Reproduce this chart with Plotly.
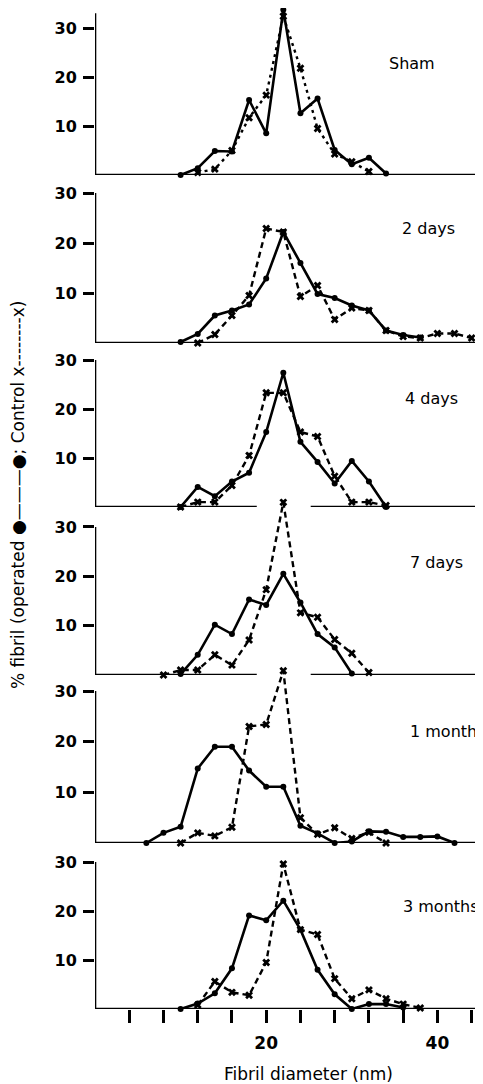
import plotly.graph_objects as go

# ---------------- data (fibril diameter in nm, % fibril) ----------------
panel_labels = ["Sham", "2 days", "4 days", "7 days", "1 month", "3 months"]

sham_op_x = [10, 12, 14, 16, 18, 20, 22, 24, 26, 28, 30, 32, 34]
sham_op_y = [0, 1.4, 4.9, 4.8, 15.3, 8.5, 33.7, 12.6, 15.6, 5.1, 2.2, 3.5, 0.3]
sham_ct_x = [12, 14, 16, 18, 20, 22, 24, 26, 28, 30, 32]
sham_ct_y = [0.5, 1.2, 5.0, 11.7, 16.3, 32.4, 21.8, 9.5, 4.3, 2.7, 0.7]

d2_op_x = [10, 12, 14, 16, 18, 20, 22, 24, 26, 28, 30, 32, 34, 36, 38]
d2_op_y = [0.2, 1.8, 5.5, 6.5, 7.7, 12.9, 22.2, 16.0, 9.8, 9.0, 7.5, 6.5, 2.5, 1.6, 1.1]
d2_ct_x = [12, 14, 16, 18, 20, 22, 24, 26, 28, 30, 32, 34, 36, 38, 40, 42, 44]
d2_ct_y = [0, 1.7, 5.5, 9.5, 22.9, 22.2, 9.3, 11.5, 4.7, 7.0, 6.5, 2.5, 1.3, 1.0, 1.9, 1.9, 1.0]

d4_op_x = [10, 12, 14, 16, 18, 20, 22, 24, 26, 28, 30, 32, 34]
d4_op_y = [0, 4.1, 2.2, 5.2, 7.0, 15.3, 27.4, 13.3, 9.2, 4.8, 9.4, 5.2, 0]
d4_ct_x = [10, 12, 14, 16, 18, 20, 22, 24, 26, 28, 30, 32, 34]
d4_ct_y = [0, 1.0, 1.0, 4.4, 10.5, 23.3, 23.3, 15.3, 14.4, 6.3, 1.0, 1.0, 0.3]

d7_op_x = [10, 12, 14, 16, 18, 20, 22, 24, 26, 28, 30]
d7_op_y = [0.2, 4.1, 10.2, 8.3, 15.3, 14.2, 20.5, 14.7, 8.3, 5.6, 0.3]
d7_ct_x = [8, 10, 12, 14, 16, 18, 20, 22, 24, 26, 28, 30, 32]
d7_ct_y = [0, 1.0, 1.0, 4.1, 2.0, 7.1, 17.3, 35.0, 12.6, 11.7, 7.2, 4.4, 0.5]

m1_op_x = [6, 8, 10, 12, 14, 16, 18, 20, 22, 24, 26, 28, 30, 32, 34, 36, 38, 40, 42]
m1_op_y = [0, 2.0, 3.2, 14.7, 19.0, 19.0, 14.3, 11.1, 11.1, 3.4, 1.9, 0, 0.3, 2.3, 2.2, 1.2, 1.2, 1.3, 0]
m1_ct_x = [10, 12, 14, 16, 18, 20, 22, 24, 26, 28, 30, 32, 34]
m1_ct_y = [0, 2.0, 1.4, 3.1, 23.0, 23.4, 34.0, 5.0, 1.7, 3.0, 0.9, 2.1, 0]

m3_op_x = [10, 12, 14, 16, 18, 20, 22, 24, 26, 28, 30, 32, 34, 36]
m3_op_y = [0, 1.1, 3.2, 8.3, 19.1, 18.1, 22.1, 16.2, 8.0, 3.0, 0, 1.0, 1.0, 0.3]
m3_ct_x = [12, 14, 16, 18, 20, 22, 24, 26, 28, 30, 32, 34, 36, 38]
m3_ct_y = [0.8, 5.6, 3.4, 2.8, 9.5, 29.6, 16.2, 15.2, 6.2, 2.1, 3.9, 2.1, 1.0, 0.2]

operated_x = [sham_op_x, d2_op_x, d4_op_x, d7_op_x, m1_op_x, m3_op_x]
operated_y = [sham_op_y, d2_op_y, d4_op_y, d7_op_y, m1_op_y, m3_op_y]
control_x = [sham_ct_x, d2_ct_x, d4_ct_x, d7_ct_x, m1_ct_x, m3_ct_x]
control_y = [sham_ct_y, d2_ct_y, d4_ct_y, d7_ct_y, m1_ct_y, m3_ct_y]

y_tickvals = [10, 20, 30]
x_tickvals = [4, 8, 12, 16, 20, 24, 28, 32, 36, 40, 44]
x_ticktext = ["", "", "", "", "20", "", "", "", "", "40", ""]

# ---------------- layout geometry (page pixels, then shifted by body margin) ----------------
W, H = 483, 1084
OFF = 8  # default page body margin
x0_px = 95.0 - OFF
px_per_nm = 8.56
baseline_px = [b - OFF for b in [175, 343, 507, 675, 843, 1009]]
top30_px = [t - OFF for t in [28, 193, 360, 527, 691, 862]]
ymax = [34, 37, 37, 37, 37, 37]
axis_top = [33, 30, 30, 30, 30, 30]
baseline_gaps = [None, None, (18.9, 25.2), (18.9, 25.2), None, None]
label_pos = [(387, 64), (400, 228), (403, 398), (408, 562), (408, 732), (401, 906)]

xmax = (W - x0_px) / px_per_nm
FONT = "DejaVu Sans"

fig = go.Figure()
layout = dict(
    width=W, height=H,
    margin=dict(l=0, r=0, t=0, b=0),
    paper_bgcolor="white",
    plot_bgcolor="rgba(0,0,0,0)",
    showlegend=False,
    font=dict(family=FONT, color="black", size=16),
)
shapes = []
annotations = []

for i in range(6):
    n = i + 1
    xa = "x" if n == 1 else f"x{n}"
    ya = "y" if n == 1 else f"y{n}"
    u = (baseline_px[i] - top30_px[i]) / 30.0
    top_px = baseline_px[i] - ymax[i] * u
    ydom = [1 - baseline_px[i] / H, min(1.0, 1 - top_px / H)]
    dash_ctrl = "3px,4px" if i == 0 else "6px,4px"

    fig.add_trace(go.Scatter(
        x=control_x[i], y=control_y[i], xaxis=xa, yaxis=ya,
        mode="lines+markers", cliponaxis=False,
        line=dict(color="black", width=2.4, dash=dash_ctrl),
        marker=dict(symbol="x", size=7, color="black"),
    ))
    fig.add_trace(go.Scatter(
        x=operated_x[i], y=operated_y[i], xaxis=xa, yaxis=ya,
        mode="lines+markers", cliponaxis=False,
        line=dict(color="black", width=2.6),
        marker=dict(symbol="circle", size=6, color="black"),
    ))

    last = (i == 5)
    layout["xaxis" if n == 1 else f"xaxis{n}"] = dict(
        domain=[x0_px / W, 1], range=[0, xmax], anchor=ya,
        showgrid=False, zeroline=False, showline=False,
        ticks="outside" if last else "", ticklen=13, tickwidth=2.5, tickcolor="black",
        tickvals=x_tickvals if last else [], ticktext=x_ticktext if last else [],
        showticklabels=last, ticklabelstandoff=6 if last else 0,
        tickfont=dict(family=FONT, size=17, color="black", weight="bold"),
        fixedrange=True,
    )
    layout["yaxis" if n == 1 else f"yaxis{n}"] = dict(
        domain=ydom, range=[0, ymax[i]], anchor=xa,
        showgrid=False, zeroline=False, showline=False,
        ticks="outside", ticklen=11, tickwidth=2.5, tickcolor="black",
        tickvals=y_tickvals, ticklabelstandoff=3,
        tickfont=dict(family=FONT, size=16, color="black", weight="bold"),
        fixedrange=True,
    )

    # y-axis line
    shapes.append(dict(type="line", xref=xa, yref=ya, x0=0, x1=0, y0=0, y1=axis_top[i],
                       line=dict(color="black", width=2.6)))
    # baseline (with a gap where the neighbouring curve crosses)
    if baseline_gaps[i] is None:
        segs = [(0, xmax)]
    else:
        g0, g1 = baseline_gaps[i]
        segs = [(0, g0), (g1, xmax)]
    for s0, s1 in segs:
        shapes.append(dict(type="line", xref=xa, yref=ya, x0=s0, x1=s1, y0=0, y1=0,
                           line=dict(color="black", width=2.6)))

    lx, ly = label_pos[i]
    annotations.append(dict(
        text=panel_labels[i], xref="paper", yref="paper",
        x=(lx - OFF) / W, y=1 - (ly - OFF) / H, xanchor="left", yanchor="middle",
        showarrow=False, font=dict(family=FONT, size=16, color="black"),
    ))

annotations.append(dict(
    text="Fibril diameter (nm)", xref="paper", yref="paper",
    x=(308 - OFF) / W, y=1 - (1074 - OFF) / H, xanchor="center", yanchor="middle",
    showarrow=False, font=dict(family=FONT, size=17, color="black"),
))
annotations.append(dict(
    text="% fibril (operated \u25CF\u2014\u2014\u2014\u25CF; Control x--------x)",
    xref="paper", yref="paper", x=(18 - OFF) / W, y=1 - (495 - OFF) / H,
    xanchor="center", yanchor="middle", textangle=-90,
    showarrow=False, font=dict(family=FONT, size=17, color="black"),
))

layout["shapes"] = shapes
layout["annotations"] = annotations
fig.update_layout(**layout)
fig.write_html("out.html")
